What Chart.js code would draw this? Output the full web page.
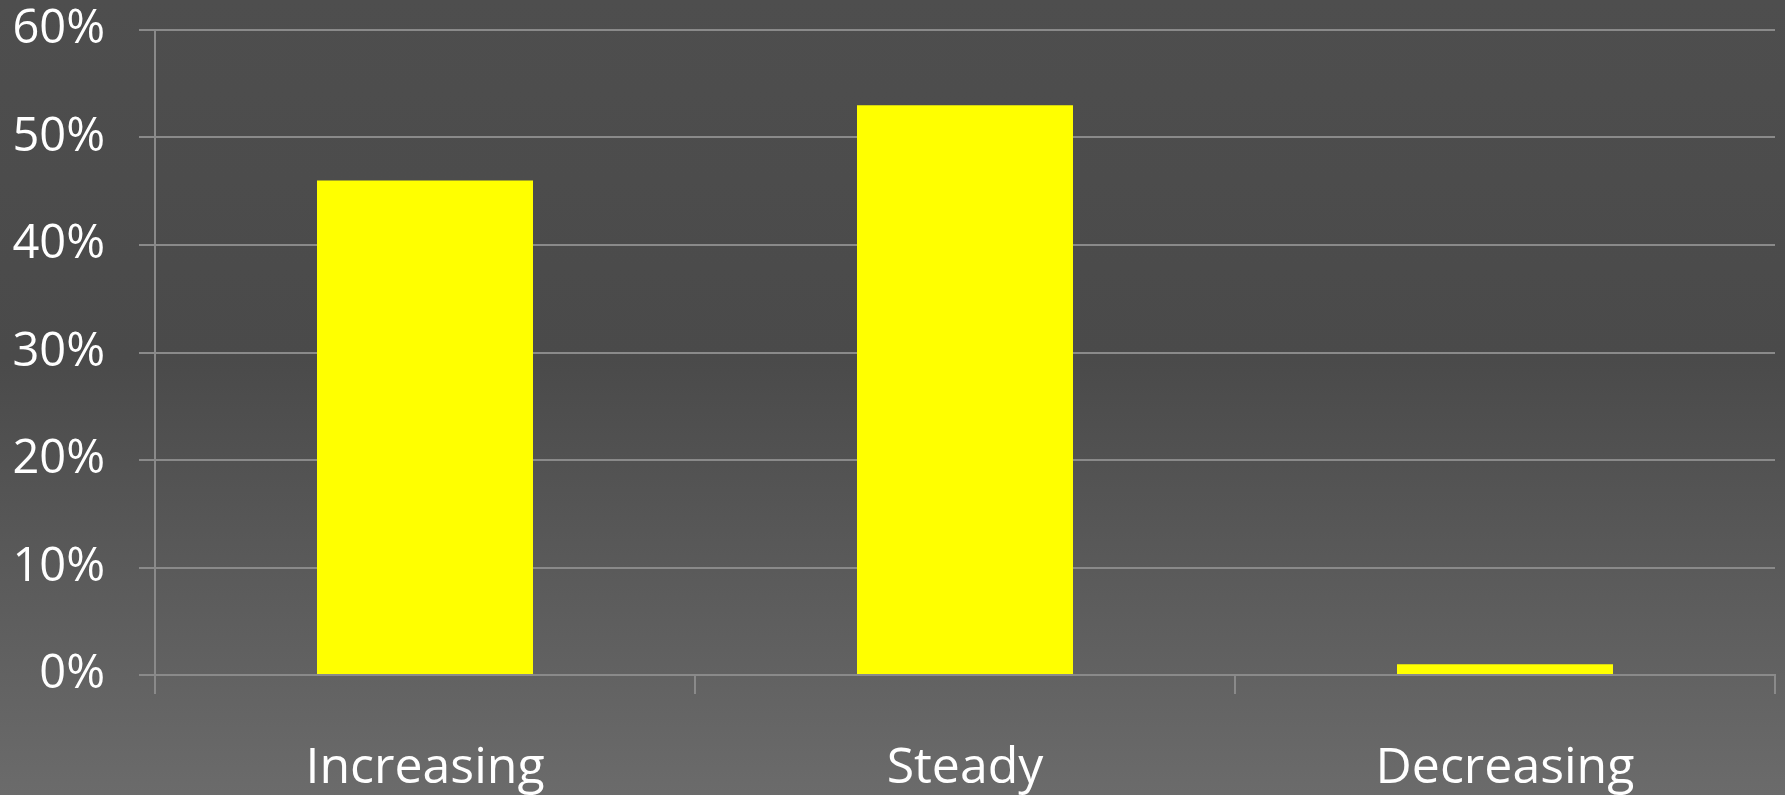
<!DOCTYPE html>
<html lang="en">

<head>
    <meta charset="UTF-8">
    <title>Trend</title>
    <script src="https://cdn.jsdelivr.net/npm/chart.js@4.4.1/dist/chart.umd.min.js"></script>
    <style>
        html, body { margin: 0; padding: 0; }
        body {
            width: 1785px;
            height: 795px;
            overflow: hidden;
            background: linear-gradient(#4e4e4e 0%, #4a4a4a 45%, #6b6b6b 100%);
        }
    </style>
</head>

<body>
    <div style="width: 1785px; height: 795px;">
        <canvas id="myChart"></canvas>
    </div>

    <script>
        // values (percent)
        var categories = ['Increasing', 'Steady', 'Decreasing'];
        var shares = [46, 53, 1];
        var yTicks = [0, 10, 20, 30, 40, 50, 60];

        var gridColor = '#8a8a8a';

        const ctx = document.getElementById('myChart').getContext('2d');
        const myChart = new Chart(ctx, {
            type: 'bar',
            data: {
                labels: categories,
                datasets: [{
                    label: 'Share',
                    data: shares,
                    backgroundColor: '#ffff00',
                    borderWidth: 0,
                    barPercentage: 0.4,
                    categoryPercentage: 1.0
                }]
            },
            options: {
                responsive: true,
                maintainAspectRatio: false,
                animation: false,
                layout: {
                    padding: { top: 30, right: 10, left: 0, bottom: 0 }
                },
                plugins: {
                    legend: { display: false },
                    tooltip: { enabled: false }
                },
                scales: {
                    x: {
                        grid: {
                            offset: true,
                            drawOnChartArea: false,
                            color: gridColor,
                            lineWidth: 2,
                            tickLength: 19
                        },
                        border: { color: gridColor, width: 2 },
                        ticks: {
                            color: '#ffffff',
                            padding: 45,
                            font: { family: 'Open Sans', size: 50 }
                        },
                        afterFit: function (scale) { scale.height = 120; }
                    },
                    y: {
                        min: 0,
                        max: 60,
                        afterBuildTicks: function (scale) {
                            scale.ticks = yTicks.map(function (v) { return { value: v }; });
                        },
                        grid: {
                            color: gridColor,
                            lineWidth: 2,
                            tickLength: 16
                        },
                        border: { color: gridColor, width: 2 },
                        ticks: {
                            color: '#ffffff',
                            padding: 34,
                            font: { family: 'Open Sans', size: 47 },
                            callback: function (v) { return v + '%'; }
                        },
                        afterFit: function (scale) {
                            scale.width = 155;
                            scale.paddingTop = 0;
                            scale.paddingBottom = 0;
                        }
                    }
                }
            }
        });
    </script>
</body>

</html>
